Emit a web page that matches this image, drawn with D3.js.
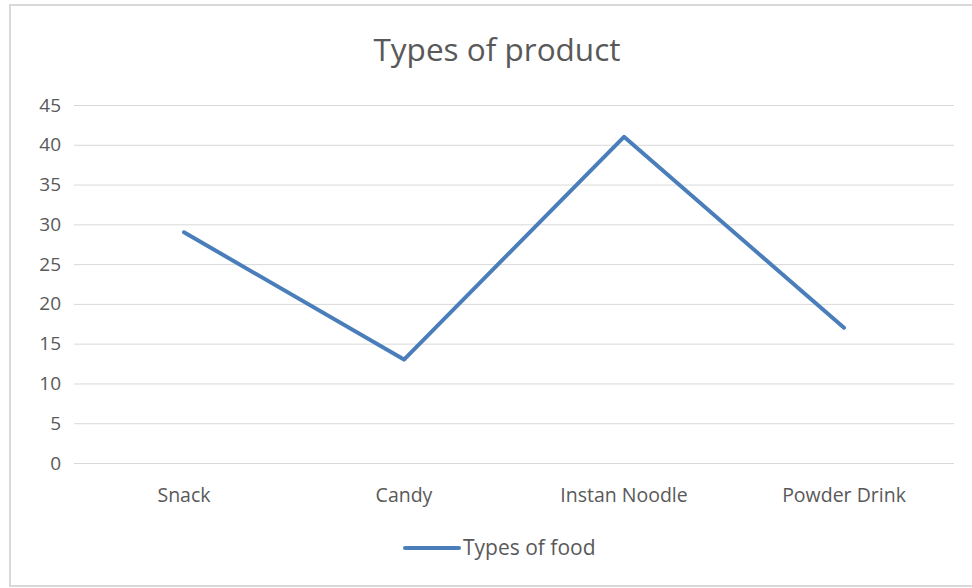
<!DOCTYPE html>
<html>
<head>
<meta charset="utf-8">
<script src="https://cdn.jsdelivr.net/npm/d3@7"></script>
<style>
    body { margin: 0; background: #fff; }
    svg { display: block; }
    text { font-family: "Open Sans", "Noto Sans", sans-serif; fill: #595959; }
</style>
</head>
<body>
<svg width="972" height="588"></svg>
<script>
var categories = ["Snack", "Candy", "Instan Noodle", "Powder Drink"];
var foodValues = [29, 13, 41, 17];
var yTicks = [0, 5, 10, 15, 20, 25, 30, 35, 40, 45];
var seriesName = "Types of food";
var chartTitle = "Types of product";

var svg = d3.select("svg"),
    width = +svg.attr("width"),
    height = +svg.attr("height");

// chart border (right side runs off the picture)
svg.append("rect")
    .attr("x", 10).attr("y", 5)
    .attr("width", 980).attr("height", 581)
    .attr("fill", "none")
    .attr("stroke", "#d9d9d9")
    .attr("stroke-width", 2);

var margin = {left: 74, right: 18, top: 105, bottom: 125};

var x = d3.scaleBand()
    .domain(categories)
    .range([margin.left, width - margin.right]);

var y = d3.scaleLinear()
    .domain([0, 45])
    .range([height - margin.bottom, margin.top]);

// title
svg.append("text")
    .attr("x", 497).attr("y", 61)
    .attr("text-anchor", "middle")
    .style("font-size", "31.5px")
    .text(chartTitle);

// gridlines + y labels
var yAxis = d3.axisLeft(y)
    .tickValues(yTicks)
    .tickSize(-(width - margin.left - margin.right))
    .tickPadding(14);

var gy = svg.append("g")
    .attr("transform", "translate(" + margin.left + ",0)")
    .call(yAxis);
gy.select(".domain").remove();
gy.selectAll(".tick line").attr("stroke", "#d9d9d9").attr("stroke-width", 1);
gy.selectAll(".tick text")
    .style("font-size", "19px")
    .style("fill", "#595959")
    .attr("x", -13);

// x labels
var xAxis = d3.axisBottom(x).tickSize(0).tickPadding(25);
var gx = svg.append("g")
    .attr("transform", "translate(0," + y(0) + ")")
    .call(xAxis);
gx.select(".domain").remove();
gx.selectAll(".tick text")
    .style("font-size", "19.5px")
    .style("fill", "#595959");

// the line
var line = d3.line()
    .x(function (d, i) { return x(categories[i]) + x.bandwidth() / 2; })
    .y(function (d) { return y(d); });

svg.append("path")
    .datum(foodValues)
    .attr("d", line)
    .attr("fill", "none")
    .attr("stroke", "#4a7ebb")
    .attr("stroke-width", 4)
    .attr("stroke-linejoin", "round")
    .attr("stroke-linecap", "round");

// legend
var leg = svg.append("g").attr("transform", "translate(405,548)");
leg.append("line")
    .attr("x1", 0).attr("x2", 54)
    .attr("stroke", "#4a7ebb")
    .attr("stroke-width", 4)
    .attr("stroke-linecap", "round");
leg.append("text")
    .attr("x", 58).attr("y", 7)
    .style("font-size", "21px")
    .text(seriesName);
</script>
</body>
</html>
